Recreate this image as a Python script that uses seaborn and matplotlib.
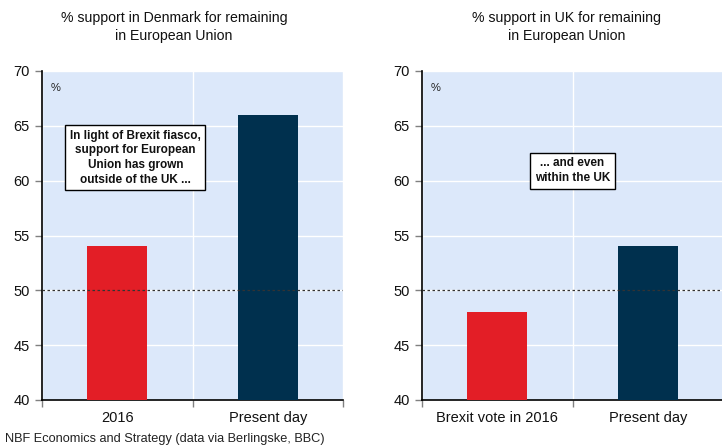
import matplotlib
matplotlib.use("Agg")
import matplotlib.pyplot as plt
import seaborn as sns
import pandas as pd

# Survey results: share supporting remaining in the EU (%)
dk_periods = ["2016", "Present day"]
dk_support = [54, 66]
uk_periods = ["Brexit vote in 2016", "Present day"]
uk_support = [48, 54]

bar_colors = ["#e31e26", "#00304e"]
panel_bg = "#dce8fa"

sns.set_theme(style="white")
plt.rcParams["font.family"] = ["Liberation Sans", "DejaVu Sans"]

fig = plt.figure(figsize=(7.22, 4.47), dpi=100)
ax_dk = fig.add_axes([42 / 722, 47 / 447, 301 / 722, 329 / 447])
ax_uk = fig.add_axes([422 / 722, 47 / 447, 301 / 722, 329 / 447])


def draw_panel(ax, periods, values, note, note_xy, title, title_x):
    df = pd.DataFrame({"period": periods, "support": values})
    sns.barplot(data=df, x="period", y="support", hue="period",
                palette=bar_colors, width=0.4, saturation=1,
                legend=False, ax=ax, zorder=3, edgecolor="none",
                linewidth=0)
    ax.set_facecolor(panel_bg)
    ax.set_ylim(40, 70)
    ax.set_xlim(-0.5, 1.5)
    ax.set_xlabel("")
    ax.set_ylabel("")
    ax.set_yticks(range(40, 71, 5))
    ax.set_xticks([0, 1])
    ax.set_xticklabels(periods)
    ax.set_xticks([-0.5, 0.5, 1.5], minor=True)
    ax.tick_params(axis="x", which="major", length=0, pad=8,
                   labelsize=10.5, colors="#111111")
    ax.tick_params(axis="x", which="minor", length=5, width=1,
                   color="#808080", direction="out", bottom=True)
    ax.tick_params(axis="y", length=5, width=1, color="#808080",
                   direction="out", left=True, labelsize=10.5,
                   labelcolor="#111111", pad=4)
    ax.grid(axis="y", color="white", linewidth=1, zorder=1)
    ax.grid(axis="x", which="minor", color="white", linewidth=1, zorder=1)
    ax.set_axisbelow(True)
    for side in ("top", "right"):
        ax.spines[side].set_visible(False)
    for side in ("left", "bottom"):
        ax.spines[side].set_visible(True)
        ax.spines[side].set_color("black")
        ax.spines[side].set_linewidth(1.2)
    ax.axhline(50, color="#333333", linestyle=(0, (2, 2)), linewidth=0.9,
               zorder=4)
    ax.text(0.03, 0.965, "%", transform=ax.transAxes, fontsize=8,
            va="top", ha="left", color="#222222")
    ax.text(note_xy[0], note_xy[1], note, ha="center", va="center",
            fontsize=8.5, fontweight="bold", color="#111111",
            linespacing=1.3, zorder=6,
            bbox=dict(boxstyle="square,pad=0.4", facecolor="white",
                      edgecolor="black", linewidth=1))
    fig.text(title_x / 722, 1 - 27 / 447, title, ha="center", va="center",
             fontsize=10.2, linespacing=1.3, color="#111111")


draw_panel(ax_dk, dk_periods, dk_support,
           "In light of Brexit fiasco,\nsupport for European\nUnion has grown\noutside of the UK ...",
           (0.12, 62.1),
           "% support in Denmark for remaining\nin European Union", 174)
draw_panel(ax_uk, uk_periods, uk_support,
           "... and even\nwithin the UK",
           (0.5, 60.9),
           "% support in UK for remaining\nin European Union", 567)

fig.text(5 / 722, 1 - 439 / 447,
         "NBF Economics and Strategy (data via Berlingske, BBC)",
         ha="left", va="center", fontsize=9.2, color="#222222")

fig.savefig("out.png", dpi=100, facecolor="white")
